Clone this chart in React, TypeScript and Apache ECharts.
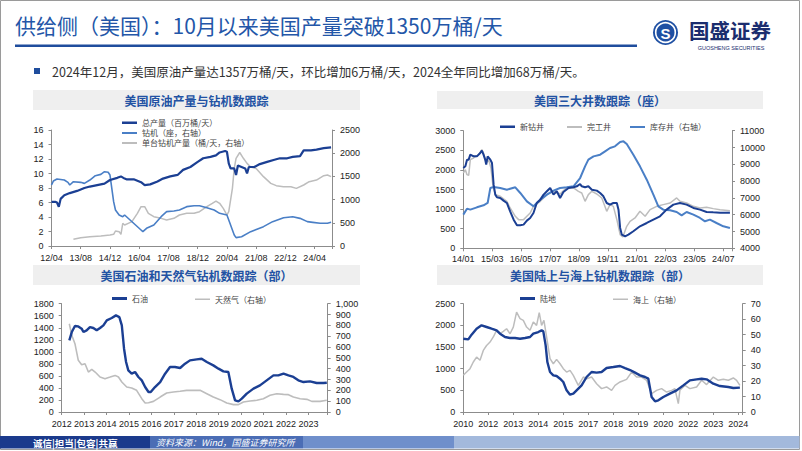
import React, { useEffect, useRef } from 'react';
import * as echarts from 'echarts';

// ---------- Panel 1: 美国原油产量与钻机数跟踪 (x = months since 2012/04)
const xLabels1 = ['12/04', '13/08', '14/12', '16/04', '17/08', '18/12', '20/04', '21/08', '22/12', '24/04'];
const production1 = [
  [0, 6.1], [2, 6.1], [3, 6.0], [4, 5.4], [5, 6.5], [7, 7.0], [10, 7.3], [14, 7.6], [18, 8.0], [21, 8.2],
  [25, 8.4], [29, 8.6], [32, 9.1], [36, 9.4], [38, 9.6], [40, 9.3], [41, 9.2], [45, 9.2], [49, 8.8], [51, 8.4],
  [54, 8.5], [58, 8.9], [61, 9.3], [65, 9.6], [69, 9.8], [72, 10.5], [76, 10.9], [80, 11.6], [83, 12.1], [87, 12.3],
  [90, 12.5], [92, 12.9], [95, 13.1], [96, 13.0], [97, 11.4], [98, 10.7], [100, 10.7], [101, 9.8], [102, 11.1],
  [104, 10.9], [106, 10.7], [107, 10.0], [108, 10.9], [111, 10.9], [114, 11.3], [118, 11.6], [122, 11.9],
  [125, 12.1], [129, 12.1], [132, 12.3], [136, 12.4], [138, 13.2], [142, 13.2], [145, 13.3], [149, 13.5], [153, 13.6],
];
const rigs1 = [
  [0, 1315], [1, 1400], [3, 1445], [7, 1422], [9, 1372], [10, 1315], [12, 1386], [16, 1372], [18, 1350], [21, 1422],
  [24, 1516], [27, 1544], [29, 1602], [31, 1588], [32, 1530], [33, 1242], [34, 955], [35, 776], [37, 668], [39, 632],
  [40, 668], [43, 561], [46, 453], [49, 345], [50, 309], [52, 381], [56, 453], [60, 632], [63, 740], [67, 754],
  [70, 776], [74, 848], [78, 869], [81, 869], [85, 826], [89, 776], [92, 704], [96, 668], [98, 453], [100, 237],
  [101, 180], [104, 201], [109, 309], [116, 417], [121, 525], [127, 610], [132, 632], [136, 596], [140, 525],
  [143, 510], [147, 489], [151, 489], [153, 510],
];
const perRig1 = [
  [12, 144], [16, 180], [21, 201], [27, 216], [32, 237], [34, 251], [35, 323], [37, 309], [38, 251], [39, 489],
  [40, 453], [42, 489], [44, 525], [47, 704], [49, 848], [51, 848], [53, 704], [56, 632], [60, 596], [63, 561],
  [67, 596], [70, 668], [74, 704], [78, 704], [81, 740], [85, 848], [88, 920], [90, 969], [92, 920], [94, 812],
  [96, 668], [97, 740], [99, 1242], [100, 1672], [101, 1890], [103, 2015], [105, 1890], [107, 1781], [109, 1703],
  [112, 1672], [116, 1494], [120, 1350], [123, 1300], [127, 1278], [131, 1278], [134, 1242], [138, 1315],
  [141, 1386], [145, 1422], [149, 1516], [151, 1530], [153, 1494],
];

// ---------- Panel 2: 美国三大井数跟踪（座） (x = months since 2014/01)
const xLabels2 = ['14/01', '15/03', '16/05', '17/07', '18/09', '19/11', '21/01', '22/03', '23/05', '24/07'];
const drilled2 = [
  [0, 2049], [1, 2091], [1.8, 2261], [2.6, 2261], [3.4, 2389], [5, 2346], [6.6, 2346], [8.2, 2431], [9, 2490],
  [9.8, 2389], [10.6, 2261], [11.1, 2134], [11.8, 2346], [13.1, 2261], [13.9, 2176], [14.7, 1624], [15.5, 1369],
  [16.3, 1300], [17.9, 1284], [19.5, 1216], [21.1, 1156], [22.7, 944], [24.4, 731], [26, 587], [27.6, 587],
  [29.2, 604], [30.8, 706], [32.4, 774], [34, 901], [35.6, 1156], [37.3, 1241], [38.9, 1369], [40.5, 1454],
  [42.1, 1539], [43.7, 1369], [45.3, 1454], [46.9, 1284], [48.5, 1437], [51, 1539], [53.4, 1556], [55, 1581],
  [56.6, 1641], [57.4, 1581], [59, 1556], [60.6, 1581], [62.3, 1496], [64.7, 1471], [66.3, 1411], [67.9, 1326],
  [69.5, 1156], [71.1, 1114], [72.7, 1156], [74.4, 1156], [75.2, 986], [76, 519], [76.8, 349], [78.4, 306],
  [80, 349], [82.4, 434], [85.6, 561], [88.9, 646], [92.1, 731], [95.3, 816], [98.5, 986], [101.8, 1114],
  [105, 1156], [108.2, 1114], [111.5, 1029], [114.7, 986], [117.9, 927], [121.1, 918], [124.4, 910], [129.2, 910],
];
const completed2 = [
  [0, 1921], [1, 2004], [1.8, 1879], [2.6, 1860], [3.4, 2261], [5, 2304], [7.4, 2389], [9, 2516], [9.8, 2431],
  [11.1, 2176], [12.3, 2261], [13.4, 2049], [14.4, 1581], [15.5, 1369], [17.9, 1326], [21.1, 1199], [22.7, 1029],
  [25.2, 816], [26.8, 731], [29.2, 731], [30.8, 816], [32.4, 901], [34, 1071], [37.3, 1199], [40.5, 1369],
  [43.7, 1454], [46.9, 1386], [50.2, 1556], [53.4, 1539], [55.8, 1454], [57.4, 1411], [59, 1199], [60.6, 1369],
  [62.3, 1454], [64.7, 1386], [67.1, 1284], [69.5, 944], [71.1, 1114], [72.7, 1071], [74.4, 731], [76, 349],
  [77.3, 289], [79.2, 561], [80.8, 689], [83.2, 774], [85.6, 944], [88.1, 816], [90.5, 986], [93.7, 1071],
  [96.9, 1114], [100.2, 1156], [103.4, 1284], [105, 1199], [108.2, 1156], [111.5, 1071], [114.7, 1029],
  [117.9, 1046], [121.1, 1012], [124.4, 986], [129.2, 961],
];
const duc2 = [
  [0, 6003], [1.8, 6360], [3.4, 6300], [6.6, 6439], [9.8, 6558], [11.8, 6697], [13.1, 7589], [14.7, 7649],
  [17.9, 7589], [21.1, 7490], [25.2, 7629], [27.6, 7292], [30.8, 6796], [34, 6499], [37.3, 6895], [40.5, 7193],
  [43.7, 7431], [46.9, 7589], [50.2, 7629], [53.4, 7688], [56.6, 8184], [59, 8878], [60.6, 9275], [63.1, 9473],
  [66.3, 9572], [68.7, 9771], [71.1, 9969], [73.5, 10068], [76, 10326], [77.6, 10366], [79.2, 10207], [82.4, 9572],
  [85.6, 8878], [88.9, 8085], [92.1, 7193], [94.5, 6499], [96.9, 6300], [100.2, 6261], [103.4, 6161],
  [105.8, 5963], [108.2, 6161], [111.5, 6003], [114.7, 5805], [117.1, 5606], [119.5, 5705], [122.7, 5507],
  [126, 5309], [129.2, 5210],
];

// ---------- Panel 3: 美国石油和天然气钻机数跟踪（部） (x = year)
const xLabels3 = ['2012', '2013', '2014', '2015', '2016', '2017', '2018', '2019', '2020', '2021', '2022', '2023'];
const oil3 = [
  [2012.34, 1191], [2012.45, 1329], [2012.59, 1429], [2012.74, 1423], [2012.89, 1385], [2012.97, 1329],
  [2013.11, 1357], [2013.26, 1412], [2013.41, 1396], [2013.56, 1357], [2013.71, 1396], [2013.86, 1440],
  [2014.01, 1523], [2014.23, 1562], [2014.42, 1606], [2014.57, 1578], [2014.68, 1440], [2014.78, 1052],
  [2014.87, 831], [2014.97, 692], [2015.12, 637], [2015.27, 665], [2015.42, 582], [2015.57, 526], [2015.72, 415],
  [2015.87, 332], [2015.97, 332], [2016.16, 415], [2016.39, 498], [2016.61, 637], [2016.83, 748], [2017.05, 748],
  [2017.28, 731], [2017.5, 803], [2017.72, 858], [2018.02, 875], [2018.24, 886], [2018.47, 831], [2018.76, 775],
  [2018.99, 720], [2019.21, 676], [2019.43, 665], [2019.58, 388], [2019.73, 194], [2019.88, 177], [2020.03, 222],
  [2020.25, 305], [2020.55, 388], [2020.84, 443], [2021.14, 526], [2021.44, 609], [2021.66, 609], [2021.89, 637],
  [2022.11, 609], [2022.33, 582], [2022.55, 526], [2022.78, 498], [2023.07, 509], [2023.37, 482], [2023.67, 482],
  [2023.82, 487],
];
const gas3 = [
  [2012.34, 815], [2012.45, 708], [2012.59, 631], [2012.74, 477], [2012.89, 437], [2013.04, 446], [2013.19, 369],
  [2013.34, 394], [2013.49, 369], [2013.71, 323], [2013.93, 308], [2014.16, 323], [2014.38, 338], [2014.53, 323],
  [2014.68, 277], [2014.9, 231], [2015.12, 222], [2015.34, 200], [2015.57, 123], [2015.72, 83], [2015.87, 86],
  [2016.09, 98], [2016.39, 138], [2016.68, 175], [2016.98, 185], [2017.28, 191], [2017.57, 200], [2017.87, 200],
  [2018.17, 200], [2018.47, 169], [2018.76, 138], [2019.06, 114], [2019.36, 83], [2019.66, 68], [2019.88, 68],
  [2020.1, 92], [2020.4, 102], [2020.7, 108], [2020.99, 123], [2021.29, 154], [2021.59, 169], [2021.89, 163],
  [2022.11, 160], [2022.33, 138], [2022.63, 123], [2022.93, 117], [2023.15, 98], [2023.52, 98], [2023.82, 108],
];

// ---------- Panel 4: 美国陆上与海上钻机数跟踪（部） (x = months since 2010/01)
const xLabels4 = ['2010', '2012', '2013', '2014', '2015', '2017', '2018', '2019', '2020', '2022', '2023', '2024'];
const land4 = [
  [0, 1692], [3.2, 1677], [5.3, 1785], [8.5, 1923], [11.7, 2000], [14.9, 1962], [18.1, 1923], [21.3, 1885],
  [23.5, 1808], [26.7, 1731], [29.9, 1708], [33.1, 1708], [36.3, 1692], [39.5, 1708], [42.7, 1731], [44.8, 1808],
  [48, 1846], [50.1, 1885], [51.2, 1862], [52.7, 1538], [53.8, 1154], [55.5, 923], [57.6, 846], [59.7, 831],
  [61.9, 769], [64, 692], [66.1, 500], [68.3, 400], [70.4, 423], [72.5, 500], [75.7, 615], [78.9, 808],
  [82.1, 923], [85.3, 908], [88.5, 923], [91.7, 1015], [96, 1038], [100.3, 1062], [103.5, 1015], [106.7, 969],
  [109.9, 908], [113.1, 846], [116.3, 808], [118.4, 769], [120.5, 346], [122.7, 246], [124.8, 269], [128, 346],
  [132.2, 423], [136.5, 500], [140.8, 615], [145, 731], [149.3, 754], [152.5, 769], [155.7, 754], [160, 654],
  [164.2, 600], [169.6, 577], [172.8, 554], [177, 562],
];
const offshore4 = [
  [0, 23.7], [2.1, 25.8], [4.3, 28], [6.4, 32.3], [8.5, 35.5], [10.7, 33.4], [12.8, 39.8], [14.9, 43],
  [17.1, 45.2], [19.2, 48.5], [21.3, 52.8], [23.5, 50.6], [25.6, 52.1], [27.7, 53.8], [29.9, 50.6], [32, 54.9],
  [34.1, 64.6], [36.3, 60.3], [38.4, 59.2], [40.5, 54.9], [42.7, 52.8], [44.8, 58.2], [46.9, 56], [48.6, 64.2],
  [50.1, 56], [51.6, 59.2], [53.3, 48.5], [55.5, 34.5], [57.6, 31.2], [59.7, 34], [61.9, 31.2], [64, 28],
  [66.1, 25.8], [68.3, 26.9], [70.4, 23.7], [73.6, 17.2], [76.8, 22.6], [78.9, 21.5], [82.1, 22.6], [85.3, 18.3],
  [88.5, 15.1], [91.7, 16.2], [94.9, 14], [97.1, 17.2], [100.3, 19.4], [104.5, 21.1], [107.7, 25.8], [110.9, 22.6],
  [114.1, 22.6], [117.3, 20.5], [120.5, 11.8], [123.7, 14], [126.9, 15.1], [130.1, 12.9], [133.3, 14], [135.4, 15.1],
  [137.6, 5.4], [138.6, 14], [141.8, 17.2], [145, 15.1], [149.3, 16.2], [152.5, 20.5], [155.7, 17.7], [160, 22.6],
  [163.2, 20.5], [166.4, 21.1], [169.6, 20.5], [172.8, 22], [174.9, 20.5], [177, 17.2],
];

const NAVY = '#1b3f93';
const BLUE = '#4a7fc6';
const GRAY = '#bdbdbd';
const CJK = '"Noto Sans CJK SC", sans-serif';
const LAT = '"Liberation Sans", Arial, sans-serif';

const axisBase = (extra: any) => ({
  axisLine: { show: true, onZero: false, lineStyle: { color: '#8c8c8c', width: 1 } },
  axisTick: { show: true, length: 3, lineStyle: { color: '#8c8c8c' } },
  splitLine: { show: false },
  ...extra,
  axisLabel: { fontSize: 9, color: '#222', fontFamily: LAT, formatter: (v: number) => String(v), ...(extra.axisLabel || {}) },
});

const fromList = (list: string[], step: number, start: number) => (v: number) => {
  const k = (v - start) / step;
  const r = Math.round(k);
  return Math.abs(k - r) < 1e-6 ? list[r] ?? '' : '';
};

const line = (name: string, data: number[][], xi: number, yi: number, color: string, width: number) => ({
  type: 'line', name, data, xAxisIndex: xi, yAxisIndex: yi, symbol: 'none', showSymbol: false,
  lineStyle: { color, width }, itemStyle: { color }, silent: true,
});

const legendAt = (name: string, left: number, top: number, h: number) => ({
  data: [name], left, top: top - h / 2, padding: 0, itemWidth: 15, itemHeight: h, icon: 'rect', selectedMode: false,
  textStyle: { fontSize: 8, color: '#444', fontFamily: CJK },
});

export default function App() {
  const ref = useRef<HTMLDivElement>(null);
  useEffect(() => {
    if (!ref.current) return;
    const chart = echarts.init(ref.current, undefined, { renderer: 'svg' });
    const panelTitle = (x: number, y: number, w: number, h: number, text: string) => [
      { type: 'rect', shape: { x, y, width: w, height: h }, style: { fill: '#efefef' }, silent: true },
      {
        type: 'text', x: x + w / 2, y: y + h / 2,
        style: { text, fill: '#2252a3', fontSize: 12, fontWeight: 'bold', fontFamily: CJK, align: 'center', verticalAlign: 'middle' },
      },
    ];
    chart.setOption({
      animation: false,
      backgroundColor: '#ffffff',
      graphic: [
        { type: 'rect', shape: { x: 0.5, y: 0.5, width: 799, height: 449 }, style: { fill: 'none', stroke: '#9a9a9a', lineWidth: 1 }, silent: true },
        {
          type: 'text', x: 15, y: 25,
          style: { text: '供给侧（美国）：10月以来美国产量突破1350万桶/天', fill: '#2356a8', fontSize: 21, fontFamily: CJK, verticalAlign: 'middle' },
        },
        { type: 'rect', shape: { x: 15, y: 44.5, width: 622, height: 2.5 }, style: { fill: '#1f4d9d' }, silent: true },
        { type: 'rect', shape: { x: 34, y: 68, width: 6, height: 6 }, style: { fill: '#1f4d9d' }, silent: true },
        {
          type: 'text', x: 52, y: 71,
          style: { text: '2024年12月，美国原油产量达1357万桶/天，环比增加6万桶/天，2024全年同比增加68万桶/天。', fill: '#333', fontSize: 12.5, fontFamily: CJK, verticalAlign: 'middle' },
        },
        // logo
        { type: 'circle', shape: { cx: 665.5, cy: 32.5, r: 12.5 }, style: { fill: '#1f50a3' }, silent: true },
        { type: 'circle', shape: { cx: 665.5, cy: 32.5, r: 9.8 }, style: { fill: 'none', stroke: '#ffffff', lineWidth: 1.6 }, silent: true },
        {
          type: 'text', x: 665.5, y: 33,
          style: { text: 'S', fill: '#ffffff', fontSize: 15, fontWeight: 'bold', fontFamily: LAT, align: 'center', verticalAlign: 'middle' },
        },
        {
          type: 'text', x: 689, y: 30,
          style: { text: '国盛证券', fill: '#1b2d6e', fontSize: 20.5, lineHeight: 22, fontWeight: 'bold', fontFamily: CJK, verticalAlign: 'middle' },
        },
        {
          type: 'text', x: 731, y: 47.5,
          style: { text: 'GUOSHENG SECURITIES', fill: '#1b2d6e', fontSize: 5.5, lineHeight: 6, fontFamily: LAT, align: 'center', verticalAlign: 'middle' },
        },
        ...panelTitle(33, 90, 327, 20, '美国原油产量与钻机数跟踪'),
        ...panelTitle(437, 91, 326, 18, '美国三大井数跟踪（座）'),
        ...panelTitle(33, 265, 327, 20, '美国石油和天然气钻机数跟踪（部）'),
        ...panelTitle(437, 265, 326, 20, '美国陆上与海上钻机数跟踪（部）'),
        // footer
        { type: 'rect', shape: { x: 0, y: 436, width: 150, height: 12.5 }, style: { fill: '#1b3a8c' }, silent: true },
        { type: 'rect', shape: { x: 150, y: 436, width: 153, height: 12.5 }, style: { fill: '#4b6db5' }, silent: true },
        { type: 'rect', shape: { x: 303, y: 436, width: 151, height: 12.5 }, style: { fill: '#6f8fcb' }, silent: true },
        { type: 'rect', shape: { x: 454, y: 436, width: 345.5, height: 12.5 }, style: { fill: '#a3b9dc' }, silent: true },
        {
          type: 'text', x: 33, y: 442.5,
          style: { text: '诚信|担当|包容|共赢', fill: '#ffffff', fontSize: 9.5, fontWeight: 'bold', fontFamily: CJK, verticalAlign: 'middle' },
        },
        {
          type: 'text', x: 156, y: 442.5,
          style: { text: '资料来源：Wind，国盛证券研究所', fill: '#ffffff', fontSize: 9, fontStyle: 'italic', fontFamily: CJK, verticalAlign: 'middle' },
        },
      ],
      legend: [
        legendAt('总产量（百万桶/天）', 122, 120, 2.5),
        legendAt('钻机（座，右轴）', 122, 130, 2),
        legendAt('单台钻机产量（桶/天，右轴）', 122, 140, 2),
        legendAt('新钻井', 500, 124, 2.5),
        legendAt('完工井', 567, 124, 2),
        legendAt('库存井（右轴）', 630, 124, 2),
        legendAt('石油', 112, 296, 3),
        legendAt('天然气（右轴）', 195, 296, 1.5),
        legendAt('陆地', 520, 296, 3),
        legendAt('海上（右轴）', 613, 296, 1.5),
      ],
      grid: [
        { left: 51.5, top: 130, width: 280.5, height: 116 },
        { left: 463.3, top: 130.7, width: 268.7, height: 117.6 },
        { left: 61.7, top: 303.7, width: 266, height: 108.3 },
        { left: 463.3, top: 303.7, width: 279.4, height: 108.3 },
      ],
      xAxis: [
        axisBase({ type: 'value', gridIndex: 0, min: 0, max: 153.5, interval: 16, axisLabel: { margin: 7, formatter: fromList(xLabels1, 16, 0) } }),
        axisBase({ type: 'value', gridIndex: 1, min: 0, max: 130.2, interval: 14, axisLabel: { margin: 6, formatter: fromList(xLabels2, 14, 0) } }),
        axisBase({ type: 'value', gridIndex: 2, min: 2012, max: 2023.86, interval: 1, axisLabel: { margin: 7, formatter: fromList(xLabels3, 1, 2012) } }),
        axisBase({ type: 'value', gridIndex: 3, min: 0, max: 178.8, interval: 16, axisLabel: { margin: 7, formatter: fromList(xLabels4, 16, 0) } }),
      ],
      yAxis: [
        axisBase({ type: 'value', gridIndex: 0, position: 'left', min: 0, max: 16, interval: 2 }),
        axisBase({ type: 'value', gridIndex: 0, position: 'right', min: 0, max: 2500, interval: 500 }),
        axisBase({ type: 'value', gridIndex: 1, position: 'left', min: 0, max: 3000, interval: 500 }),
        axisBase({ type: 'value', gridIndex: 1, position: 'right', min: 4000, max: 11000, interval: 1000 }),
        axisBase({ type: 'value', gridIndex: 2, position: 'left', min: 0, max: 1800, interval: 200 }),
        axisBase({
          type: 'value', gridIndex: 2, position: 'right', min: 0, max: 1000, interval: 100,
          axisLabel: { formatter: (v: number) => v.toLocaleString('en-US') },
        }),
        axisBase({ type: 'value', gridIndex: 3, position: 'left', min: 0, max: 2500, interval: 500 }),
        axisBase({ type: 'value', gridIndex: 3, position: 'right', min: 0, max: 70, interval: 10 }),
      ],
      series: [
        line('单台钻机产量（桶/天，右轴）', perRig1, 0, 1, GRAY, 1.5),
        line('钻机（座，右轴）', rigs1, 0, 1, BLUE, 1.6),
        line('总产量（百万桶/天）', production1, 0, 0, NAVY, 2.2),
        line('完工井', completed2, 1, 2, GRAY, 1.5),
        line('库存井（右轴）', duc2, 1, 3, BLUE, 2),
        line('新钻井', drilled2, 1, 2, NAVY, 2),
        line('天然气（右轴）', gas3, 2, 5, GRAY, 1.6),
        line('石油', oil3, 2, 4, NAVY, 2.4),
        line('海上（右轴）', offshore4, 3, 7, GRAY, 1.5),
        line('陆地', land4, 3, 6, NAVY, 2.4),
      ],
    });
    return () => chart.dispose();
  }, []);
  return (
    <div
      ref={ref}
      style={{ position: 'fixed', left: 0, top: 0, width: 802, height: 451, background: '#fff' }}
    />
  );
}
